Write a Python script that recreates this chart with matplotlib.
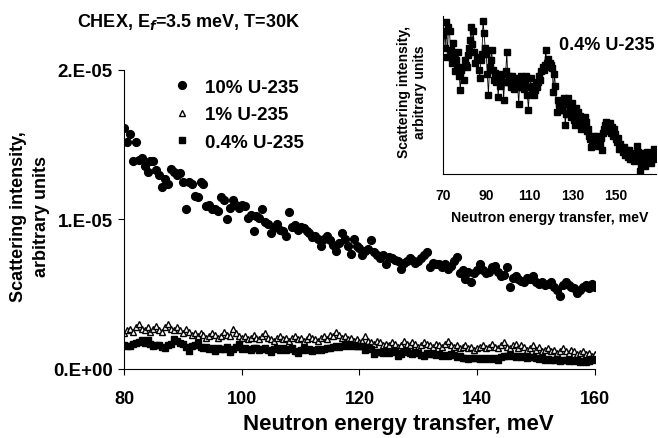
import numpy as np
import matplotlib
matplotlib.use('Agg')
import matplotlib.pyplot as plt
from matplotlib.lines import Line2D

plt.rcParams['font.family'] = ['Liberation Sans', 'DejaVu Sans']
plt.rcParams['font.weight'] = 'bold'

# energy grids, meV
e_main = np.arange(80.0, 160.01, 0.5)
e_low = np.arange(70.0, 168.01, 0.5)

# scattering intensity, units of 1e-5
i_10pct = [1.61, 1.52, 1.57, 1.39, 1.52, 1.40, 1.41, 1.36, 1.32, 1.39,
           1.39, 1.33, 1.30, 1.22, 1.27, 1.24, 1.34, 1.32, 1.30, 1.31,
           1.25, 1.07, 1.25, 1.24, 1.16, 1.15, 1.25, 1.24, 1.09, 1.10,
           1.07, 1.07, 1.06, 1.15, 1.13, 1.00, 1.08, 1.13, 1.10, 1.08,
           1.10, 1.09, 1.01, 1.03, 0.92, 1.02, 1.01, 1.07, 0.98, 0.97,
           0.91, 0.95, 0.97, 0.93, 0.92, 0.89, 1.05, 0.95, 0.96, 0.93,
           0.95, 0.94, 0.92, 0.91, 0.88, 0.89, 0.87, 0.82, 0.87, 0.89,
           0.86, 0.83, 0.79, 0.84, 0.91, 0.87, 0.82, 0.77, 0.87, 0.82,
           0.81, 0.76, 0.79, 0.80, 0.86, 0.78, 0.76, 0.74, 0.76, 0.70,
           0.75, 0.74, 0.73, 0.72, 0.67, 0.71, 0.72, 0.74, 0.73, 0.71,
           0.72, 0.74, 0.76, 0.78, 0.68, 0.71, 0.70, 0.70, 0.68, 0.70,
           0.67, 0.69, 0.72, 0.75, 0.64, 0.66, 0.60, 0.65, 0.58, 0.64,
           0.66, 0.70, 0.66, 0.64, 0.65, 0.68, 0.69, 0.65, 0.62, 0.63,
           0.68, 0.55, 0.61, 0.62, 0.60, 0.59, 0.58, 0.61, 0.60, 0.62,
           0.58, 0.57, 0.58, 0.56, 0.57, 0.58, 0.55, 0.53, 0.49, 0.56,
           0.58, 0.56, 0.55, 0.54, 0.51, 0.53, 0.55, 0.56, 0.54, 0.57,
           0.55]

i_1pct = [0.24, 0.26, 0.27, 0.25, 0.28, 0.30, 0.27, 0.26, 0.28, 0.25,
          0.27, 0.29, 0.26, 0.25, 0.28, 0.30, 0.27, 0.26, 0.28, 0.26,
          0.24, 0.27, 0.25, 0.23, 0.24, 0.22, 0.24, 0.23, 0.21, 0.22,
          0.24, 0.23, 0.21, 0.22, 0.25, 0.23, 0.22, 0.27, 0.24, 0.22,
          0.21, 0.22, 0.20, 0.21, 0.23, 0.21, 0.20, 0.22, 0.24, 0.21,
          0.20, 0.19, 0.21, 0.22, 0.20, 0.21, 0.19, 0.21, 0.22, 0.20,
          0.21, 0.19, 0.20, 0.22, 0.21, 0.20, 0.19, 0.21, 0.22, 0.20,
          0.23, 0.22, 0.25, 0.23, 0.21, 0.22, 0.20, 0.21, 0.19, 0.20,
          0.18, 0.19, 0.22, 0.19, 0.18, 0.17, 0.19, 0.18, 0.16, 0.17,
          0.16, 0.18, 0.17, 0.15, 0.16, 0.19, 0.17, 0.16, 0.18, 0.17,
          0.15, 0.16, 0.18, 0.17, 0.16, 0.15, 0.17, 0.16, 0.15, 0.17,
          0.19, 0.16, 0.15, 0.16, 0.14, 0.15, 0.16, 0.14, 0.15, 0.13,
          0.14, 0.15, 0.16, 0.14, 0.15, 0.17, 0.15, 0.14, 0.16, 0.18,
          0.15, 0.14, 0.16, 0.17, 0.14, 0.16, 0.15, 0.13, 0.14, 0.16,
          0.13, 0.15, 0.12, 0.13, 0.14, 0.12, 0.13, 0.11, 0.12, 0.14,
          0.12, 0.11, 0.13, 0.12, 0.10, 0.11, 0.12, 0.10, 0.11, 0.09,
          0.10]

i_04pct = [0.187, 0.192, 0.173, 0.201, 0.163, 0.196, 0.191, 0.170, 0.156, 0.178,
           0.163, 0.147, 0.159, 0.152, 0.168, 0.142, 0.126, 0.149, 0.152, 0.138,
           0.159, 0.154, 0.152, 0.165, 0.173, 0.182, 0.196, 0.177, 0.191, 0.168,
           0.156, 0.163, 0.161, 0.149, 0.140, 0.159, 0.166, 0.203, 0.189, 0.173,
           0.166, 0.144, 0.121, 0.152, 0.159, 0.171, 0.149, 0.138, 0.145, 0.135,
           0.142, 0.119, 0.138, 0.131, 0.137, 0.144, 0.116, 0.135, 0.147, 0.168,
           0.135, 0.142, 0.135, 0.130, 0.142, 0.138, 0.128, 0.133, 0.140, 0.130,
           0.111, 0.137, 0.142, 0.130, 0.138, 0.128, 0.135, 0.142, 0.121, 0.105,
           0.130, 0.140, 0.124, 0.131, 0.121, 0.126, 0.133, 0.130, 0.135, 0.142,
           0.138, 0.147, 0.152, 0.149, 0.154, 0.170, 0.156, 0.161, 0.152, 0.156,
           0.154, 0.151, 0.124, 0.144, 0.131, 0.102, 0.116, 0.111, 0.104, 0.114,
           0.105, 0.111, 0.118, 0.088, 0.100, 0.114, 0.118, 0.107, 0.097, 0.112,
           0.104, 0.093, 0.088, 0.107, 0.097, 0.102, 0.091, 0.098, 0.084, 0.093,
           0.086, 0.097, 0.091, 0.081, 0.084, 0.076, 0.072, 0.064, 0.071, 0.076,
           0.072, 0.069, 0.076, 0.065, 0.071, 0.067, 0.074, 0.060, 0.079, 0.084,
           0.088, 0.091, 0.086, 0.081, 0.090, 0.079, 0.086, 0.076, 0.083, 0.078,
           0.072, 0.069, 0.074, 0.062, 0.067, 0.062, 0.058, 0.064, 0.055, 0.060,
           0.057, 0.053, 0.060, 0.051, 0.057, 0.050, 0.055, 0.048, 0.053, 0.065,
           0.058, 0.050, 0.037, 0.044, 0.051, 0.057, 0.048, 0.043, 0.053, 0.058,
           0.050, 0.057, 0.046, 0.055, 0.051, 0.062, 0.055]

i_04pct = np.array(i_04pct)
in_main = (e_low >= 80) & (e_low <= 160)

xticks_main = [80, 100, 120, 140, 160]
yticks_main = [0, 1, 2]
ytick_labels = ['0.E+00', '1.E-05', '2.E-05']
xticks_inset = [70, 90, 110, 130, 150]
series_names = ['10% U-235', '1% U-235', '0.4% U-235']

fig = plt.figure(figsize=(6.58, 4.39), dpi=100)
ax = fig.add_axes([0.1884, 0.1572, 0.7159, 0.6811])

ax.plot(e_main, i_10pct, 'o', color='black', ms=5.6, mec='black')
ax.plot(e_main, i_1pct, '^', color='white', ms=4.8, mec='black', mew=1.0)
ax.plot(e_low[in_main], i_04pct[in_main], 's', color='black', ms=4.8, mec='black')

ax.set_xlim(80, 160)
ax.set_ylim(0, 2)
ax.set_xticks(xticks_main)
ax.set_yticks(yticks_main)
ax.set_yticklabels(ytick_labels)
ax.spines['top'].set_visible(False)
ax.spines['right'].set_visible(False)
ax.tick_params(direction='out', length=4, width=0.8)
ax.tick_params(axis='y', labelsize=13.5, pad=4)
ax.tick_params(axis='x', pad=11, labelsize=13)
for lbl in ax.get_xticklabels() + ax.get_yticklabels():
    lbl.set_fontweight('bold')

fig.text(0.606, 0.032, 'Neutron energy transfer, meV', ha='center', va='center',
         fontsize=16, fontweight='bold')
fig.text(0.046, 0.506, 'Scattering intensity,\narbitrary units', ha='center', va='center',
         rotation=90, fontsize=13, fontweight='bold', linespacing=1.45)
fig.text(0.117, 0.95, r'CHEX, E$_{\mathbf{\it{f}}}$=3.5 meV, T=30K', ha='left', va='center',
         fontsize=13, fontweight='bold')

handles = [Line2D([], [], ls='', marker='o', color='black', ms=5.6),
           Line2D([], [], ls='', marker='^', color='white', mec='black', ms=4.8),
           Line2D([], [], ls='', marker='s', color='black', ms=4.8)]
leg = fig.legend(handles, series_names, loc='upper left',
                 bbox_to_anchor=(0.237, 0.857), frameon=False, fontsize=13.5,
                 handlelength=1.0, handletextpad=0.7, labelspacing=0.55)
for t in leg.get_texts():
    t.set_fontweight('bold')

# inset with the 0.4% data
axi = fig.add_axes([0.6733, 0.6014, 0.3237, 0.3599])
axi.plot(e_low, i_04pct, '-s', color='black', lw=0.6, ms=4.0)
axi.set_xlim(70, 168.5)
axi.set_ylim(0.034, 0.208)
axi.set_xticks(xticks_inset)
axi.set_yticks([])
axi.spines['top'].set_visible(False)
axi.spines['right'].set_visible(False)
axi.tick_params(axis='x', length=0, pad=10, labelsize=10)
for lbl in axi.get_xticklabels():
    lbl.set_fontweight('bold')
axi.set_xlabel('Neutron energy transfer, meV', fontsize=10.2, fontweight='bold', labelpad=6)
fig.text(0.626, 0.79, 'Scattering intensity,\narbitrary units', ha='center', va='center',
         rotation=90, fontsize=10, fontweight='bold', linespacing=1.15)
axi.text(0.995, 0.82, '0.4% U-235', transform=axi.transAxes, ha='right', va='center',
         fontsize=13, fontweight='bold')

fig.savefig('out.png', dpi=100)
